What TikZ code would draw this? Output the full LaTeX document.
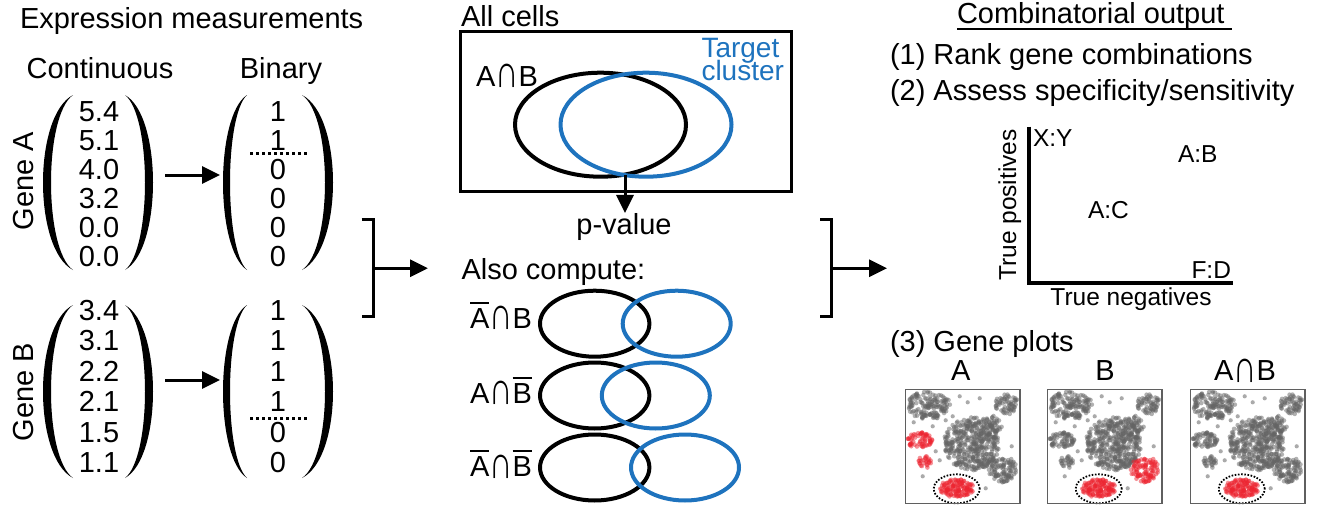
\documentclass[tikz,border=0pt]{standalone}
\usepackage{fontspec}
\setmainfont{Liberation Sans}
\usetikzlibrary{arrows.meta}
\definecolor{tblue}{RGB}{30,115,190}
\definecolor{ptgray}{RGB}{100,100,100}
\definecolor{ptred}{RGB}{236,36,48}
\definecolor{frame}{RGB}{95,95,95}
\newcommand\myovl[1]{\vbox{\hrule height 2pt\kern 4.5pt\hbox{#1}}}
\newcommand\mycap{\raisebox{-1.5pt}{\scalebox{1.12}[1.6]{∩}}}
\newcommand\bigparen[5]{%
  \pgfmathsetmacro\pco{(4*#4-#1)/3}%
  \pgfmathsetmacro\pci{(4*#5-#1)/3}%
  \pgfmathsetmacro\pya{#2+0.12*(#3-#2)}%
  \pgfmathsetmacro\pyb{#3-0.12*(#3-#2)}%
  \fill (#1,#2) .. controls (\pco,\pya) and (\pco,\pyb) .. (#1,#3)
        .. controls (\pci,\pyb) and (\pci,\pya) .. (#1,#2) -- cycle;}
\newcommand\blob[6]{%
  \foreach \k in {1,...,#5}{%
    \pgfmathsetmacro\bang{360*rnd}%
    \pgfmathsetmacro\brad{sqrt(rnd)}%
    \fill[#6, fill opacity=0.5] ({#1+#3*\brad*cos(\bang)},{#2+#4*\brad*sin(\bang)}) circle[radius=2.3pt];
  }}
\newcommand\geneplot[5]{%
  \begin{scope}[shift={(#1,#2)}]
    \begin{scope}
      \clip (0,0) rectangle (114.3,114);
      \pgfmathsetseed{4242}
      \blob{23}{16}{22}{14}{150}{ptgray}
      \blob{101}{15}{12}{10}{60}{ptgray}
      \blob{66}{54}{28}{27}{420}{ptgray}
      \blob{86}{37}{10}{12}{50}{ptgray}
      \blob{97}{80}{14}{13}{100}{#5}
      \blob{14}{51}{13}{8}{65}{#3}
      \blob{19}{73}{7}{7}{25}{#4}
      \blob{51}{99}{17}{9}{130}{ptred}
      \foreach \px/\py in {54/7,74/9,40/31,27/37,34/71,17/87,62/13,47/27,80/99,106/57,8/33,30/62}
        \fill[ptgray, fill opacity=0.55] (\px,\py) circle[radius=2.1pt];
    \end{scope}
    \draw[line width=1.8pt, dash pattern=on 1.6pt off 1.6pt] (51,99.5) ellipse [x radius=23pt, y radius=14.5pt];
    \draw[frame, line width=1.5pt] (0,0) rectangle (114.3,114);
  \end{scope}}
\begin{document}
\begin{tikzpicture}[x=1pt,y=-1pt,
  txt/.style={font=\fontsize{29}{30}\selectfont, inner sep=0pt, outer sep=0pt},
  sml/.style={font=\fontsize{24.5}{25}\selectfont, inner sep=0pt, outer sep=0pt},
  arr/.style={line width=3pt, -{Triangle[length=18pt,width=17pt]}},
  brk/.style={line width=3pt},
  venn/.style={line width=4pt},
  dotl/.style={line width=3pt, dash pattern=on 3pt off 3pt},
]
\useasboundingbox (0,0) rectangle (1317,511);

% ---------- left: expression measurements
\node[txt, anchor=base west] (title) at (20,29) {Expression measurements};
\node[txt, anchor=base] (cont) at (100,78) {Continuous};
\node[txt, anchor=base] (bin) at (281,78) {Binary};
\node[txt, anchor=base, rotate=90] (geneA) at (33,181) {Gene A};
\node[txt, anchor=base, rotate=90] (geneB) at (33,392) {Gene B};

\foreach \v [count=\i] in {5.4,5.1,4.0,3.2,0.0,0.0}
  \node[txt, anchor=base] (ca\i) at (99,{121+29*(\i-1)}) {\v};
\foreach \v [count=\i] in {1,1,0,0,0,0}
  \node[txt, anchor=base] (ba\i) at (278,{121+29*(\i-1)}) {\v};
\foreach \v [count=\i] in {3.4,3.1,2.2,2.1,1.5,1.1}
  \node[txt, anchor=base] (cb\i) at (99,{320+30.5*(\i-1)}) {\v};
\foreach \v [count=\i] in {1,1,1,1,0,0}
  \node[txt, anchor=base] (bb\i) at (278,{320+30.5*(\i-1)}) {\v};

\bigparen{73}{95}{270}{43}{51}
\bigparen{125}{95}{270}{153}{145}
\bigparen{247}{95}{270}{223}{230}
\bigparen{302}{95}{270}{333}{325}
\bigparen{73}{305}{478}{43}{51}
\bigparen{125}{305}{478}{153}{145}
\bigparen{247}{305}{478}{223}{230}
\bigparen{302}{305}{478}{333}{325}

\coordinate (dA1) at (250,153.5); \coordinate (dA2) at (309,153.5);
\draw[dotl] (dA1) -- (dA2);
\coordinate (dB1) at (250,418.5); \coordinate (dB2) at (309,418.5);
\draw[dotl] (dB1) -- (dB2);

\coordinate (aAs) at (165,175); \coordinate (aAe) at (220,175);
\draw[arr] (aAs) -- (aAe);
\coordinate (aBs) at (165,380); \coordinate (aBe) at (220,380);
\draw[arr] (aBs) -- (aBe);

% ---------- brackets
\coordinate (L1) at (361.5,219.7); \coordinate (L2) at (373,219.7);
\coordinate (L3) at (373,316.7); \coordinate (L4) at (361.5,316.7);
\draw[brk] (L1) -- (L2) -- (L3) -- (L4);
\coordinate (La) at (373,268.2); \coordinate (Lb) at (428,268.2);
\draw[arr] (La) -- (Lb);
\coordinate (R1) at (820,219.7); \coordinate (R2) at (831,219.7);
\coordinate (R3) at (831,316.7); \coordinate (R4) at (820,316.7);
\draw[brk] (R1) -- (R2) -- (R3) -- (R4);
\coordinate (Ra) at (831,268.2); \coordinate (Rb) at (887,268.2);
\draw[arr] (Ra) -- (Rb);

% ---------- middle: all cells
\node[txt, anchor=base west] (allc) at (461,26.7) {All cells};
\draw[line width=3pt] (460,31.7) rectangle (791.7,191);
\draw[venn] (600.5,124.7) ellipse [x radius=85.5pt, y radius=52pt];
\draw[venn, tblue] (646,124.7) ellipse [x radius=85.5pt, y radius=52pt];
\node[txt, anchor=base west] (ab) at (476,86) {A\mycap B};
\node[txt, anchor=north west, tblue, align=left,
      font={\fontsize{28}{23}\selectfont\lineskiplimit=-50pt}] (tgt) at (701.5,38.3) {Target\\cluster};
\node[txt, anchor=base] (pval) at (624,234) {p-value};
\coordinate (pv0) at (625,174.8);
\draw[arr] (pv0) -- (pv0 |- pval.north);

\node[txt, anchor=base west] (also) at (461.5,279.5) {Also compute:};
\node[txt, anchor=base west] (r1) at (470,328.3) {\myovl{A}\mycap B};
\node[txt, anchor=base west] (r2) at (470,403.3) {A\mycap\myovl{B}};
\node[txt, anchor=base west] (r3) at (470,476.7) {\myovl{A}\mycap\myovl{B}};
\draw[venn] (594.7,323.7) ellipse [x radius=54.7pt, y radius=33pt];
\draw[venn, tblue] (676.7,323.7) ellipse [x radius=54pt, y radius=33pt];
\draw[venn] (594.7,395.5) ellipse [x radius=54.7pt, y radius=33pt];
\draw[venn, tblue] (655.8,395.5) ellipse [x radius=54pt, y radius=33pt];
\draw[venn] (594.7,467.5) ellipse [x radius=54.7pt, y radius=33pt];
\draw[venn, tblue] (685,467.5) ellipse [x radius=54pt, y radius=33pt];

% ---------- right: combinatorial output
\node[txt, anchor=base west] (comb) at (957,24) {Combinatorial output};
\coordinate (u1) at (957,28.8); \coordinate (u2) at (1232,28.8);
\draw[line width=1.5pt] (u1) -- (u2);
\node[txt, anchor=base west] (s1) at (890,65) {(1) Rank gene combinations};
\node[txt, anchor=base west] (s2) at (890,100) {(2) Assess specificity/sensitivity};

\coordinate (ytop) at (1029.3,126.7); \coordinate (orig) at (1029.3,283); \coordinate (xend) at (1233.3,283);
\draw[line width=4pt] (ytop) -- (orig) -- (xend);
\node[sml, anchor=base, rotate=90] (tp) at (1016,205) {True positives};
\node[sml, anchor=base] (tn) at (1131,305) {True negatives};
\node[sml, anchor=base west] (xy) at (1033,146.7) {X:Y};
\node[sml, anchor=base west] (abl) at (1178,162.3) {A:B};
\node[sml, anchor=base west] (acl) at (1088,218.3) {A:C};
\node[sml, anchor=base west] (fdl) at (1191.5,278.3) {F:D};

\node[txt, anchor=base west] (s3) at (890,351.7) {(3) Gene plots};
\node[txt, anchor=base] (gA) at (960.7,380.7) {A};
\node[txt, anchor=base] (gB) at (1105,380.7) {B};
\node[txt, anchor=base] (gAB) at (1245,380.7) {A\mycap B};

\geneplot{905.7}{389.3}{ptred}{ptred}{ptgray}
\geneplot{1047.7}{389.3}{ptgray}{ptgray}{ptred}
\geneplot{1190.7}{389.3}{ptgray}{ptgray}{ptgray}
\end{tikzpicture}
\end{document}
